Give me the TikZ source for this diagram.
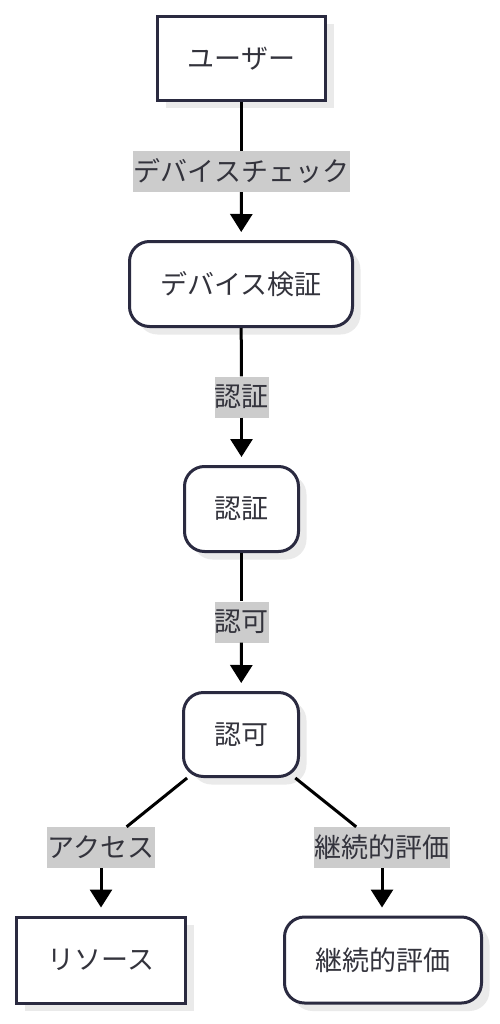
\documentclass[tikz,border=0pt]{standalone}
\usepackage{fontspec}
\setmainfont{Noto Sans CJK JP}
\usetikzlibrary{arrows.meta,shadows}
\definecolor{bd}{RGB}{42,42,64}
\definecolor{tx}{RGB}{51,51,60}
\definecolor{lb}{RGB}{204,204,204}
\definecolor{sh}{RGB}{234,234,234}
\tikzset{
  x=1pt, y=-1pt,
  box/.style={draw=bd, line width=3pt, fill=white, text=tx,
    font=\fontsize{27}{32}\selectfont, inner sep=0pt,
    drop shadow={shadow xshift=8pt, shadow yshift=-8pt, fill=sh, opacity=1}},
  rbox/.style={box, rounded corners=20pt},
  lbl/.style={fill=lb, text=tx, font=\fontsize{27}{32}\selectfont,
    inner sep=0pt, minimum height=41pt},
  conn/.style={draw=black, line width=3pt},
  arr/.style={conn, -{Triangle[width=22pt,length=18pt]}, shorten >=8pt},
}
\begin{document}
\begin{tikzpicture}
\useasboundingbox (0,0) rectangle (499,1024);
% nodes
\node[box, minimum width=168pt, minimum height=84pt] (user) at (241.5,58.5) {ユーザー};
\node[rbox, minimum width=223pt, minimum height=85pt] (dev) at (241,284) {デバイス検証};
\node[rbox, minimum width=114pt, minimum height=85pt] (auth) at (241.5,509) {認証};
\node[rbox, minimum width=115pt, minimum height=84pt] (authz) at (241,734.5) {認可};
\node[box, minimum width=169pt, minimum height=86pt] (res) at (101,960) {リソース};
\node[rbox, minimum width=197pt, minimum height=86pt] (cont) at (383,960) {継続的評価};
% labels
\node[lbl, minimum width=217pt] (l1) at (241.5,171.5) {デバイスチェック};
\node[lbl, minimum width=54pt] (l2) at (241.5,397) {認証};
\node[lbl, minimum width=54pt] (l3) at (241.5,622) {認可};
\node[lbl, minimum width=108pt] (l4) at (101,847.5) {アクセス};
\node[lbl, minimum width=136pt] (l5) at (382,847.5) {継続的評価};
% connectors
\draw[conn] (user) -- (l1);
\draw[arr] (l1) -- (dev);
\draw[conn] (dev) -- (l2);
\draw[arr] (l2) -- (auth);
\draw[conn] (auth) -- (l3);
\draw[arr] (l3) -- (authz);
\draw[conn] (authz) -- (l4);
\draw[arr] (l4.south) -- (res.north);
\draw[conn] (authz) -- (l5);
\draw[arr] (l5.south) -- (l5.south |- res.north);
\end{tikzpicture}
\end{document}
